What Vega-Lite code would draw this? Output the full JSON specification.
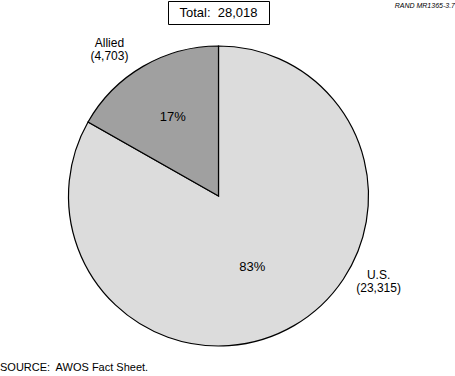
{
  "$schema": "https://vega.github.io/schema/vega-lite/v6.json",
  "padding": 0,
  "background": "white",
  "bounds": "flush",
  "spacing": 22,
  "center": true,
  "data": {"values": [
    {"category": "U.S.", "value": 23315},
    {"category": "Allied", "value": 4703}
  ]},
  "config": {
    "font": "Liberation Sans",
    "title": {"font": "Liberation Sans", "color": "black"},
    "text": {"font": "Liberation Sans", "color": "black"},
    "view": {"stroke": null}
  },
  "title": {
    "text": "RAND MR1365-3.7",
    "orient": "top",
    "anchor": "end",
    "frame": "bounds",
    "fontSize": 7,
    "fontStyle": "italic",
    "fontWeight": "normal",
    "dx": 18,
    "offset": -8
  },
  "vconcat": [
    {
      "width": 101,
      "height": 23,
      "view": {"stroke": "black", "strokeWidth": 1},
      "transform": [
        {"aggregate": [{"op": "sum", "field": "value", "as": "total"}]},
        {"calculate": "'Total:\u00a0 ' + format(datum.total, ',')", "as": "lbl"}
      ],
      "mark": {"type": "text", "fontSize": 13},
      "encoding": {"text": {"field": "lbl", "type": "nominal"}}
    },
    {
      "width": 437,
      "height": 300,
      "title": {
        "text": "SOURCE:\u00a0 AWOS Fact Sheet.",
        "orient": "bottom",
        "anchor": "start",
        "frame": "group",
        "fontSize": 11,
        "fontWeight": "normal",
        "offset": 14
      },
      "transform": [
        {"joinaggregate": [{"op": "sum", "field": "value", "as": "total"}]},
        {"stack": "value", "groupby": [], "sort": [{"field": "value", "order": "descending"}], "as": ["v0", "v1"]},
        {"calculate": "(datum.v0 + datum.v1) / 2", "as": "mid"},
        {"calculate": "format(datum.value / datum.total, '.0%')", "as": "pct"},
        {"calculate": "[datum.category, '(' + format(datum.value, ',') + ')']", "as": "lbl"}
      ],
      "layer": [
        {
          "mark": {"type": "arc", "stroke": "black", "strokeWidth": 1.2},
          "encoding": {
            "theta": {"field": "v1", "type": "quantitative", "stack": null},
            "theta2": {"field": "v0"},
            "color": {
              "field": "category",
              "type": "nominal",
              "scale": {"domain": ["U.S.", "Allied"], "range": ["#dcdcdc", "#a0a0a0"]},
              "legend": null
            }
          }
        },
        {
          "transform": [{"filter": "datum.category == 'Allied'"}],
          "mark": {"type": "text", "radius": 91, "fontSize": 13},
          "encoding": {
            "theta": {"field": "mid", "type": "quantitative", "stack": null},
            "text": {"field": "pct", "type": "nominal"}
          }
        },
        {
          "transform": [{"filter": "datum.category == 'U.S.'"}],
          "mark": {"type": "text", "radius": 79, "fontSize": 13, "dx": -6, "dy": 3},
          "encoding": {
            "theta": {"field": "mid", "type": "quantitative", "stack": null},
            "text": {"field": "pct", "type": "nominal"}
          }
        },
        {
          "transform": [{"filter": "datum.category == 'Allied'"}],
          "mark": {"type": "text", "align": "center", "radius": 185, "fontSize": 12, "lineHeight": 13, "dx": -16, "dy": 7},
          "encoding": {
            "theta": {"field": "mid", "type": "quantitative", "stack": null},
            "text": {"field": "lbl", "type": "nominal"}
          }
        },
        {
          "transform": [{"filter": "datum.category == 'U.S.'"}],
          "mark": {"type": "text", "align": "center", "radius": 185, "fontSize": 12, "lineHeight": 13, "dx": 67, "dy": -81},
          "encoding": {
            "theta": {"field": "mid", "type": "quantitative", "stack": null},
            "text": {"field": "lbl", "type": "nominal"}
          }
        }
      ]
    }
  ]
}
